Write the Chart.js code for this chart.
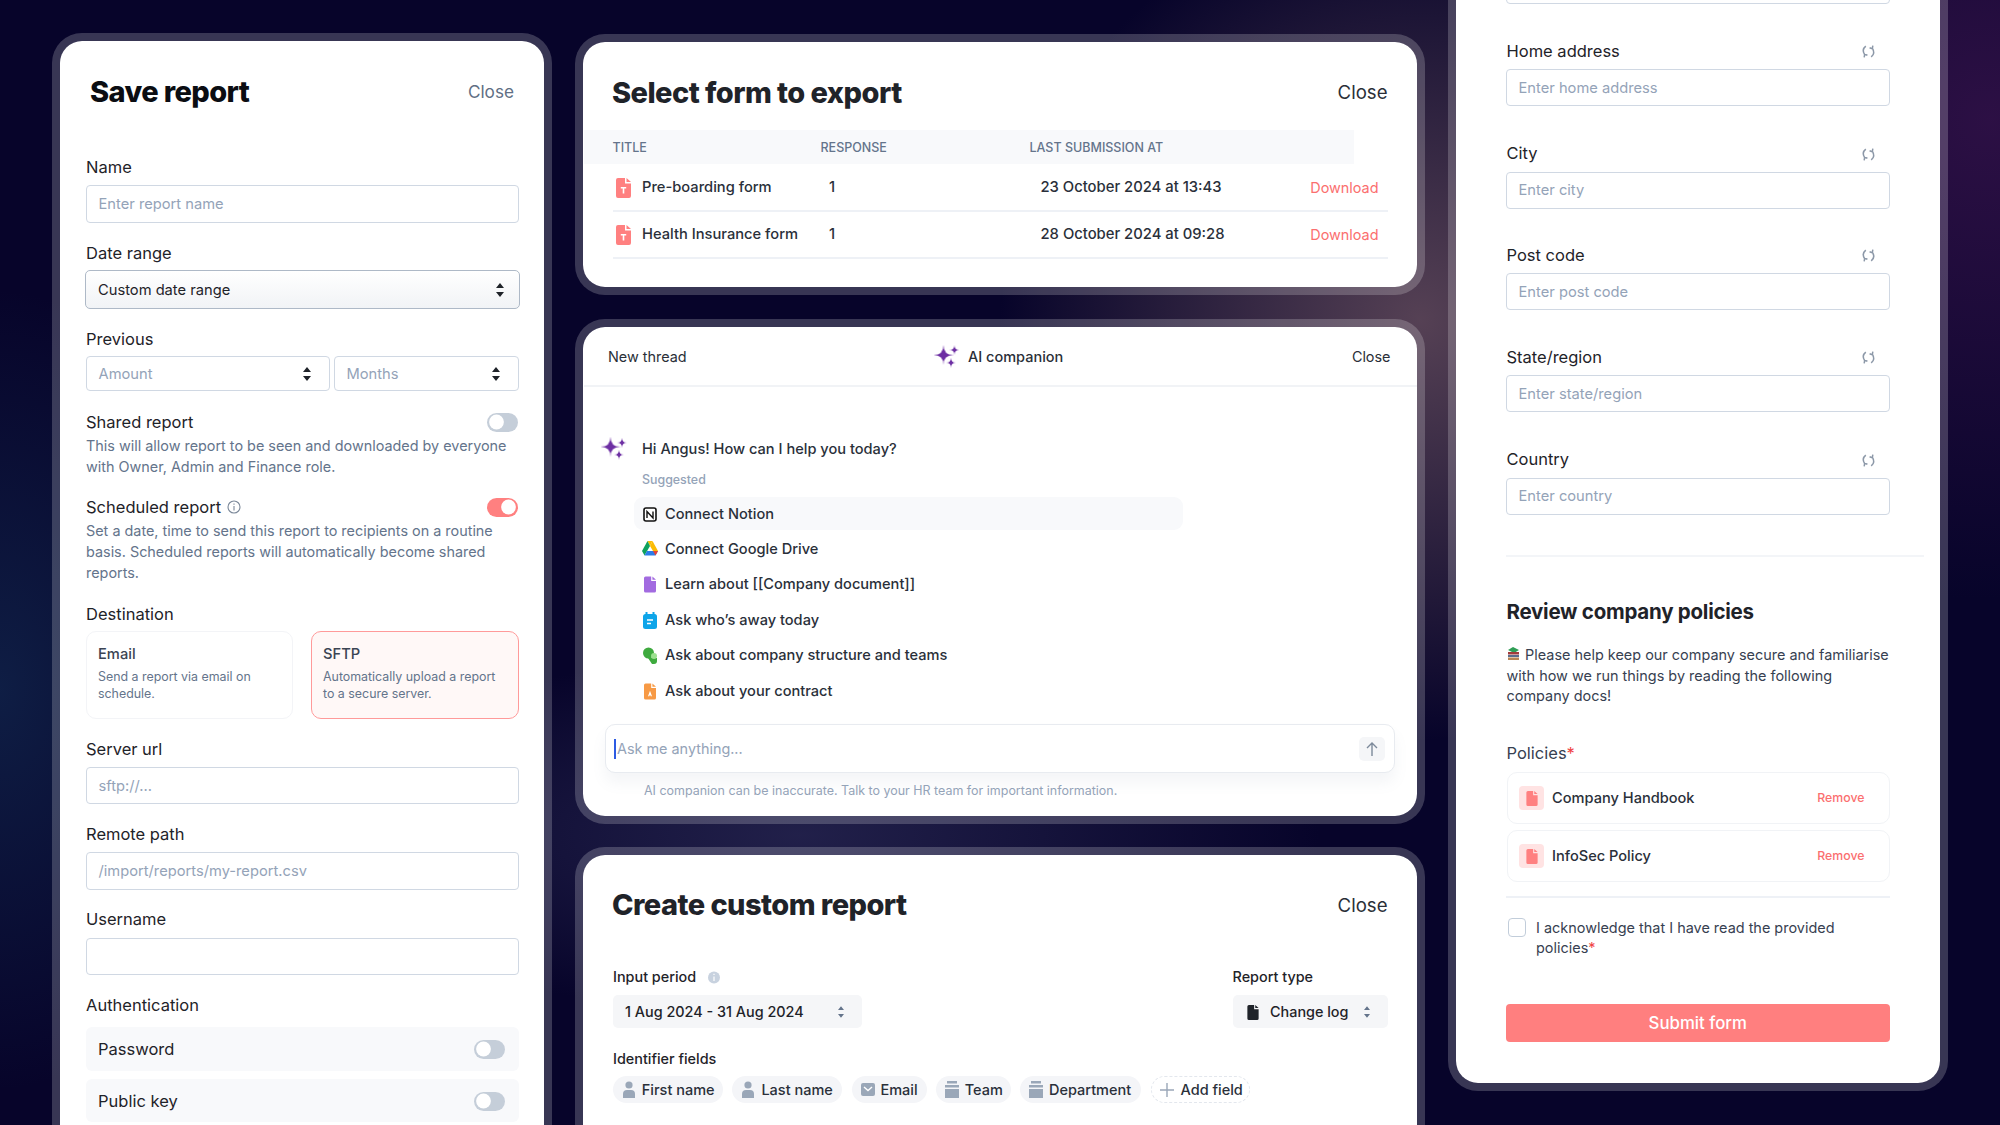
<!DOCTYPE html>
<html><head><meta charset="utf-8"><title>Report panels</title>
<script src="https://cdn.jsdelivr.net/npm/chart.js@4/dist/chart.umd.min.js"></script>
<style>
html,body{margin:0;padding:0;width:2000px;height:1125px;overflow:hidden}
body{position:relative;font-family:Inter,"Noto Sans",sans-serif;background:
 radial-gradient(420px 420px at 1420px 320px,rgba(105,80,95,.8),transparent),
 radial-gradient(240px 400px at 0px 690px,rgba(25,65,105,.42),transparent),
 radial-gradient(480px 480px at 1990px 120px,rgba(75,25,90,.55),transparent),
 radial-gradient(520px 180px at 800px 835px,rgba(55,55,100,.55),transparent),
 #07042a;-webkit-font-smoothing:antialiased}
.card{position:absolute;box-sizing:border-box;border:8px solid rgba(255,255,255,.2);border-radius:30px;background:#fff;background-clip:padding-box}
.t{position:absolute;white-space:nowrap;transform:translateY(-50%);line-height:1.2}
.b{position:absolute;box-sizing:border-box}
svg{position:absolute;overflow:visible}
#c{position:absolute;left:0;top:0;z-index:5;pointer-events:none}
</style></head><body>
<canvas id="c" width="2000" height="1125" style="width:2000px;height:1125px"></canvas>
<script>
// ---- content ----
const tableColumns = ["TITLE","RESPONSE","LAST SUBMISSION AT"];
const formTitles = ["Pre-boarding form","Health Insurance form"];
const formResponses = [1,1];
const formDates = ["23 October 2024 at 13:43","28 October 2024 at 09:28"];
const suggestions = ["Connect Notion","Connect Google Drive","Learn about [[Company document]]","Ask who’s away today","Ask about company structure and teams","Ask about your contract"];
const identifierFields = ["First name","Last name","Email","Team","Department"];
const addressFields = ["Home address","City","Post code","State/region","Country"];
const addressHints = ["Enter home address","Enter city","Enter post code","Enter state/region","Enter country"];
const policies = ["Company Handbook","InfoSec Policy"];
const toggleNames = ["Shared report","Scheduled report","Password","Public key"];
const toggleOn = [false,true,false,false];

const INK="#1f2329", GREY="#64748b", HINT="#94a3b8", RED="#fb6f6f", LINE="#d0d8e3";
const L=16.5, D=14.4;
const add=(html)=>{document.body.insertAdjacentHTML('beforeend',html)};
function T(x,y,s,size,o={}){const w=o.w||400,c=o.c||INK,r=o.r;
 const ls=o.ls!==undefined?o.ls:0;
 add(`<div class="t" style="${r?`right:${2000-x}px`:`left:${x}px`};top:${y+.6}px;font-size:${size}px;font-weight:${w};color:${c};letter-spacing:${ls}px">${s}</div>`)}
function B(x,y,x2,y2,st){add(`<div class="b" style="left:${x}px;top:${y}px;width:${x2-x}px;height:${y2-y}px;${st}"></div>`)}
function input(x,y,x2,y2,hint,hc){B(x,y,x2,y2,`border:1.6px solid ${LINE};border-radius:4px;background:#fff`);
 if(hint)T(x+12.5,(y+y2)/2+.6,hint,14.7,{c:hc||HINT})}
function sort(x,y,c="#1f2329",k=1){add(`<svg style="left:${x-6}px;top:${y-9}px" width="12" height="18"><path d="M${6-4*k} 7L6 ${7-5*k}L${6+4*k} 7Z M${6-4*k} 11L6 ${11+5*k}L${6+4*k} 11Z" fill="${c}"/></svg>`)}
function track(x,y,on){B(x,y-9.5,x+31,y+9.5,`border-radius:10px;background:${on?'#ff8080':'#c5ced9'}`)}
function file(x,y,c,w=15,h=20,inner=''){add(`<svg style="left:${x-w/2}px;top:${y-h/2}px" width="${w}" height="${h}" viewBox="0 0 15 20"><path d="M2 0H9V5.5H15V18a2 2 0 0 1-2 2H2a2 2 0 0 1-2-2V2a2 2 0 0 1 2-2ZM10.5 0L15 4H10.5Z" fill="${c}"/>${inner}</svg>`)}
const Tmark='<path d="M4.8 9H10.2V10.6H8.3V15.5H6.7V10.6H4.8Z" fill="#fff"/>';

// ---- card frames ----
add('<div class="card" style="left:52px;top:33px;width:500px;height:1130px"></div>');
add('<div class="card" style="left:575px;top:34px;width:850px;height:261px"></div>');
add('<div class="card" style="left:575px;top:319px;width:850px;height:505px"></div>');
add('<div class="card" style="left:575px;top:847px;width:850px;height:320px"></div>');
add('<div class="card" style="left:1448px;top:-60px;width:500px;height:1151px"></div>');

// ---- Save report ----
T(90,91,"Save report",29,{w:800,c:"#0b0d12",ls:-.6});
T(514,91,"Close",17.2,{r:1,c:"#5f6f84"});
T(86,167.6,"Name",L);input(86,185,519,223,"Enter report name");
T(86,253.5,"Date range",L);
B(85,270,520,309,"border:1.6px solid #aeb9c7;border-radius:5px;background:linear-gradient(#fff,#f1f3f6)");
T(98,290,"Custom date range",14.7);sort(500,290);
T(86,339,"Previous",L);
input(86,356,330,391,"Amount");sort(307,374);
input(334,356,519,391,"Months");sort(496,374);
T(86,422,toggleNames[0],L);track(487,422,toggleOn[0]);
T(86,445.5,"This will allow report to be seen and downloaded by everyone",D,{c:GREY});
T(86,466.5,"with Owner, Admin and Finance role.",D,{c:GREY});
T(86,507.6,toggleNames[1],L);track(487,507,toggleOn[1]);
add('<svg style="left:227px;top:500px" width="14" height="14"><circle cx="7" cy="7" r="6" fill="none" stroke="#7b8899" stroke-width="1.1"/><path d="M7 6V10.5M7 3.6V4.8" stroke="#7b8899" stroke-width="1.1"/></svg>');
T(86,530.5,"Set a date, time to send this report to recipients on a routine",D,{c:GREY});
T(86,551.5,"basis. Scheduled reports will automatically become shared",D,{c:GREY});
T(86,572.5,"reports.",D,{c:GREY});
T(86,614,"Destination",L);
B(86,631,293,719,"border:1.5px solid #f3f4f7;border-radius:10px");
B(310.5,631,519,719,"border:1.5px solid #ff9a9a;border-radius:10px;background:#fff8f7");
T(98,654,"Email",14.7,{c:"#3b4453",w:500});T(98,676.5,"Send a report via email on",12.4,{c:GREY});T(98,693.5,"schedule.",12.4,{c:GREY});
T(323,654,"SFTP",14.7,{c:"#3b4453",w:500});T(323,676.5,"Automatically upload a report",12.4,{c:GREY});T(323,693.5,"to a secure server.",12.4,{c:GREY});
T(86,749.5,"Server url",L);input(86,767,519,804,"sftp://...");
T(86,834.5,"Remote path",L);input(86,852,519,889.5,"/import/reports/my-report.csv");
T(86,919.5,"Username",L);input(86,937.5,519,975,"");
T(86,1005.5,"Authentication",L);
B(86,1027,519,1070.5,"background:#f8f9fb;border-radius:6px");B(86,1079,519,1122,"background:#f8f9fb;border-radius:6px");
T(98,1049.5,toggleNames[2],L);track(474,1049,toggleOn[2]);
T(98,1101,toggleNames[3],L);track(474,1101,toggleOn[3]);

// ---- Select form to export ----
T(612,92,"Select form to export",29,{w:800,ls:-.55});
T(1387.5,91,"Close",18.6,{r:1,c:"#2a2f38"});
B(584,130,1354,164,"background:#f8f9fb");
[612.5,820.5,1029.5].forEach((x,i)=>T(x,146.2,tableColumns[i],12.5,{c:GREY,w:500}));
[188,235].forEach((y,i)=>{file(623,y,"#ff8080",15,20,Tmark);
 T(642,y-.4,formTitles[i],14.7,{w:500,c:"#2a303a"});T(829,y-.4,String(formResponses[i]),14.7,{w:500,c:"#2a303a"});
 T(1040.5,y-.4,formDates[i],14.8,{w:500,c:"#2a303a"});T(1378.5,y-.4,"Download",14.4,{r:1,c:RED});
 B(613,y+22,1387.5,y+24,"background:#eef1f6")});

// ---- AI companion ----
T(608,356,"New thread",14.4,{c:"#2a2f38"});T(968,356,"AI companion",14.5,{c:"#2a2f38",w:500});
T(1390.5,356,"Close",14.4,{r:1,c:"#2a2f38"});
B(584,385,1417,387,"background:#f1f3f6");
T(642,449,"Hi Angus! How can I help you today?",14.6,{w:500,c:"#2a303a"});
T(642,479.6,"Suggested",12.4,{c:"#94a3b8",w:500});
B(634,497,1183,530,"background:#f8f9fb;border-radius:9px");
const rowY=[514,549,584.5,620,655.5,691];
suggestions.forEach((s,i)=>T(665,rowY[i],s,14.6,{w:500,c:"#2a303a"}));
add(`<svg style="left:643px;top:507px" width="14" height="15"><rect x="1" y="1" width="12" height="13" rx="2" fill="#fff" stroke="#111" stroke-width="1.6"/><path d="M4 11V4.5L10 11V4.5" fill="none" stroke="#111" stroke-width="1.4"/></svg>`);
add(`<svg style="left:642px;top:541px" width="16" height="15"><path d="M5.5 0H10.5L8 5 5.5 0Z" fill="#fbbc04"/><path d="M5.5 0L0 10 2.5 14.5 8 5Z" fill="#0fa15d"/><path d="M10.5 0L16 10H11L8 5Z" fill="#fbbc04"/><path d="M2.5 14.5H13.5L16 10H5Z" fill="#2b7de9"/><path d="M11 10H16L13.5 14.5Z" fill="#ea4335"/></svg>`);
file(650,584.5,"#a26be0",12,17);
add(`<svg style="left:643px;top:612px" width="14" height="17"><rect y="2" width="14" height="15" rx="2.5" fill="#0ea5e9"/><rect x="2.5" width="2" height="4" fill="#0ea5e9"/><rect x="9.5" width="2" height="4" fill="#0ea5e9"/><path d="M4 8H10M4 11.5H8" stroke="#fff" stroke-width="1.5"/></svg>`);
add(`<svg style="left:643px;top:647px" width="14" height="17"><circle cx="5.5" cy="6" r="5.5" fill="#3eaa3e"/><path d="M5 11H14V14a3 3 0 0 1-3 3H9Z" fill="#3eaa3e"/><circle cx="11" cy="9" r="3" fill="#9be08f"/></svg>`);
file(650,691,"#f79a45",12,17,'<path d="M7.5 9L5 16H6.6L7 14.8H8L8.4 16H10Z" fill="#fff"/>');
B(604.5,724,1395,773,"border:1.6px solid #e8ebf0;border-radius:10px;background:#fff;box-shadow:0 10px 14px rgba(120,130,150,.08)");
B(614,739,616,759,"background:#2d5be3");
T(617,748.4,"Ask me anything...",14.4,{c:HINT});
B(1358.5,737,1384.5,761,"background:#f5f6f8;border-radius:5px");
add('<svg style="left:1365.5px;top:742px" width="12" height="14"><path d="M6 14V1M1 6L6 1L11 6" fill="none" stroke="#7d8a9b" stroke-width="1.4"/></svg>');
T(644,790,"AI companion can be inaccurate. Talk to your HR team for important information.",12.47,{c:HINT});

// ---- Create custom report ----
T(612,904,"Create custom report",29,{w:800,ls:-.55});T(1387.5,904,"Close",18.6,{r:1,c:"#2a2f38"});
T(613,976.4,"Input period",14.4,{w:500});
add('<svg style="left:708px;top:971px" width="12" height="13"><circle cx="6" cy="6.5" r="6" fill="#c8d2df"/><path d="M6 5.5V10M6 2.8V4" stroke="#fff" stroke-width="1.2"/></svg>');
T(1232.5,976.4,"Report type",14.4,{w:500});
B(613,995,862,1028,"background:#f5f6f8;border-radius:5px");T(625,1011.4,"1 Aug 2024 - 31 Aug 2024",14.4,{w:500});sort(841,1012,"#64748b",.75);
B(1232.5,995,1387.5,1028,"background:#f5f6f8;border-radius:5px");
file(1253,1012,"#1f2329",12,15);T(1270,1011.4,"Change log",14.4,{w:500});sort(1366.5,1012,"#64748b",.75);
T(613,1058,"Identifier fields",14.4,{w:500});
const chipX=[[612.8,723.4],[732.4,842],[851.5,926.7],[935.7,1011.5],[1020,1141]];
identifierFields.forEach((s,i)=>{const [a,b]=chipX[i];B(a,1076,b,1103,"background:#f4f5f8;border-radius:14px");
 T(a+29,1089.5,s,14.5,{w:500,c:"#2a303a"});
 const cx=a+16;
 if(i<2)add(`<svg style="left:${cx-6}px;top:1081px" width="12" height="17"><circle cx="6" cy="4" r="3.6" fill="#9aa7b8"/><path d="M0 17V13a4 4 0 0 1 4-4H8a4 4 0 0 1 4 4V17Z" fill="#9aa7b8"/></svg>`);
 else if(i==2)add(`<svg style="left:${cx-7}px;top:1083px" width="14" height="13"><rect width="14" height="13" rx="2" fill="#9aa7b8"/><path d="M3 4L7 7.5L11 4" fill="none" stroke="#fff" stroke-width="1.4"/></svg>`);
 else add(`<svg style="left:${cx-7}px;top:1081px" width="14" height="17"><rect x="2" width="10" height="2.5" fill="#9aa7b8"/><rect y="4" width="14" height="2.5" fill="#9aa7b8"/><rect y="8" width="14" height="9" fill="#9aa7b8"/></svg>`);
});
B(1151,1076,1249.6,1103,"border:1.2px dashed #e3e7ed;border-radius:14px");
add('<svg style="left:1159.5px;top:1083px" width="14" height="14"><path d="M7 0V14M0 7H14" stroke="#9aa7b8" stroke-width="1.4"/></svg>');
T(1180.5,1089.5,"Add field",14.5,{w:500,c:"#2a303a"});

// ---- Right form ----
B(1506,-30,1889.5,3.5,`border:1.6px solid ${LINE};border-radius:4px`);
const inTop=[69,171.5,273,375,477.5];
addressFields.forEach((s,i)=>{const y=inTop[i];T(1506.5,y-18,s,L);input(1506,y,1889.5,y+37,addressHints[i]);
 add(`<svg style="left:1862px;top:${y-24}px" width="13" height="13" viewBox="0 0 12 12"><path d="M3.5 1C1 3 .5 6 2.5 9M2 11.5L2.5 8.5L5 9.5M8.5 11C11 9 11.5 6 9.5 3M10 .5L9.5 3.5L7 2.5" fill="none" stroke="#8c98a8" stroke-width="1.4"/></svg>`)});
B(1506,555,1924,557,"background:#f3f5f8");
T(1506.5,611.6,"Review company policies",20.5,{w:700,ls:-.25});
add('<svg style="left:1507px;top:647px" width="13" height="13"><path d="M1 3L6 0L12 3L7 6Z" fill="#2f9e55"/><rect x="1" y="5" width="11" height="2.5" fill="#a13b3b"/><rect x="1" y="8" width="11" height="2" fill="#5a6b8c"/><rect x="1" y="10.5" width="11" height="2.5" fill="#b98555"/></svg>');
T(1525,654,"Please help keep our company secure and familiarise",14.45,{c:"#374151"});
T(1506.5,675,"with how we run things by reading the following",14.45,{c:"#374151"});
T(1506.5,695.4,"company docs!",14.45,{c:"#374151"});
T(1506.5,753.5,'Policies<span style="color:#ef4444">*</span>',L,{c:"#374151"});
[798,856].forEach((y,i)=>{B(1506.5,y-26.5,1889.5,y+26,"border:1.5px solid #f1f3f6;border-radius:10px");
 B(1519,y-12.5,1544,y+12,"background:#ffe3e3;border-radius:4px");file(1531.5,y,"#ff8080",12,15);
 T(1552,y,policies[i],14.6,{w:500,c:"#2a303a"});T(1864.5,y-.6,"Remove",12.3,{r:1,c:RED,w:500})});
B(1506,896,1890,898,"background:#eef1f6");
B(1507.5,918,1526,937,"border:1.6px solid #c2cdda;border-radius:4px");
T(1536,927.5,"I acknowledge that I have read the provided",14.45,{c:"#374151"});
T(1536,947.6,'policies<span style="color:#ef4444">*</span>',14.45,{c:"#374151"});
B(1506,1004,1889.5,1042,"background:#ff7f7f;border-radius:4px");
add(`<div class="t" style="left:1506px;width:383.5px;top:1023px;text-align:center;font-size:16.8px;font-weight:500;color:#fff">Submit form</div>`);

// ---- Chart.js layer: page-wide linear scales, marks placed through them ----
function sparkle(r,color){const c=document.createElement('canvas');c.width=c.height=2*r;const g=c.getContext('2d');
 g.fillStyle=color;g.beginPath();g.moveTo(r,0);g.quadraticCurveTo(r,r,2*r,r);g.quadraticCurveTo(r,r,r,2*r);g.quadraticCurveTo(r,r,0,r);g.quadraticCurveTo(r,r,r,0);g.fill();
 g.beginPath();g.arc(r,r,r*.28,0,7);g.fill();return c}
const knobTrackLeft=[487,487,474,474], knobRow=[422,507,1049,1101];
const knobs=toggleOn.map((on,i)=>({x:knobTrackLeft[i]+(on?21.5:9.5),y:knobRow[i]}));
new Chart(document.getElementById('c'),{type:'scatter',
 data:{datasets:[
  {label:'toggle knobs',data:knobs,pointStyle:'circle',pointRadius:7.4,backgroundColor:'#fff',borderWidth:0},
  {label:'sparkle large',data:[{x:943.5,y:355},{x:610.5,y:446.7}],pointStyle:sparkle(10,'#6d2fa3'),pointRadius:10},
  {label:'sparkle small',data:[{x:954.4,y:350},{x:951,y:362.7},{x:622,y:442.7},{x:619,y:454.7}],pointStyle:sparkle(5,'#6d2fa3'),pointRadius:5}
 ]},
 options:{responsive:false,animation:false,events:[],devicePixelRatio:1,layout:{padding:0,autoPadding:false},
  plugins:{legend:{display:false},tooltip:{enabled:false}},
  scales:{x:{type:'linear',min:0,max:2000,display:false},y:{type:'linear',min:0,max:1125,reverse:true,display:false}}}});
</script></body></html>
